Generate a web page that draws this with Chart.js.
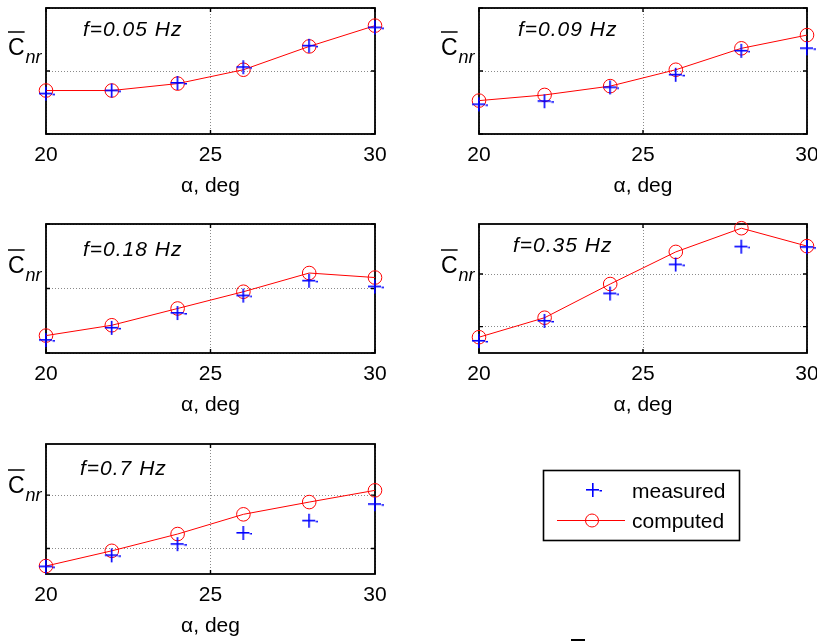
<!DOCTYPE html>
<html>
<head>
<meta charset="utf-8">
<script src="https://cdn.jsdelivr.net/npm/chart.js@4.4.0/dist/chart.umd.min.js"></script>
<style>
  body { margin: 0; background: #fff; }
  #wrap { position: relative; width: 817px; height: 642px; overflow: hidden; background: #fff; }
  #wrap canvas { position: absolute; }
</style>
</head>
<body>
<div id="wrap"></div>
<script>
// angle of attack, deg
const ALPHA = [20, 22, 24, 26, 28, 30];
const X_TICKS = [20, 25, 30];
const FREQ_LABELS = ["f=0.05 Hz", "f=0.09 Hz", "f=0.18 Hz", "f=0.35 Hz", "f=0.7 Hz"];
const SERIES_NAMES = ["measured", "computed"];
const X_TITLE = "\u03b1, deg";

// (no y tick labels, so arbitrary units)
const MEASURED_005 = [0.64, 0.69, 0.81, 1.06, 1.40, 1.69];
const COMPUTED_005 = [0.69, 0.69, 0.80, 1.02, 1.39, 1.72];
const MEASURED_009 = [0.47, 0.52, 0.74, 0.94, 1.32, 1.36];
const COMPUTED_009 = [0.53, 0.62, 0.76, 1.02, 1.36, 1.57];
const MEASURED_018 = [0.20, 0.39, 0.62, 0.89, 1.12, 1.03];
const COMPUTED_018 = [0.27, 0.43, 0.69, 0.95, 1.24, 1.17];
const MEASURED_035 = [0.73, 1.11, 1.63, 2.18, 2.52, 2.51];
const COMPUTED_035 = [0.80, 1.17, 1.81, 2.42, 2.87, 2.53];
const MEASURED_07 = [0.66, 0.87, 1.08, 1.29, 1.52, 1.83];
const COMPUTED_07 = [0.67, 0.955, 1.27, 1.64, 1.87, 2.09];

const Y_TICKS_A = [0, 1, 2];
const Y_TICKS_B = [1, 2];

Chart.defaults.font.family = "'Liberation Sans', Arial, sans-serif";
Chart.defaults.color = "#000";

// panel layout (global page pixels)
const panels = [
  { meas: MEASURED_005, comp: COMPUTED_005, label: FREQ_LABELS[0], yMin: 0, yMax: 2, yTicks: Y_TICKS_A,
    cv: [0, 0, 410, 210], plot: [46, 3, 375, 134], txt: [83, 30], yl: 32 },
  { meas: MEASURED_009, comp: COMPUTED_009, label: FREQ_LABELS[1], yMin: 0, yMax: 2, yTicks: Y_TICKS_A,
    cv: [410, 0, 407, 210], plot: [479, 3, 807, 134], txt: [518, 30], yl: 32 },
  { meas: MEASURED_018, comp: COMPUTED_018, label: FREQ_LABELS[2], yMin: 0, yMax: 2, yTicks: Y_TICKS_A,
    cv: [0, 210, 410, 220], plot: [46, 224, 375, 353], txt: [83, 250], yl: 250 },
  { meas: MEASURED_035, comp: COMPUTED_035, label: FREQ_LABELS[3], yMin: 0.5, yMax: 2.95, yTicks: Y_TICKS_B,
    cv: [410, 210, 407, 220], plot: [479, 224, 807, 353], txt: [513, 246], yl: 250 },
  { meas: MEASURED_07, comp: COMPUTED_07, label: FREQ_LABELS[4], yMin: 0.52, yMax: 2.96, yTicks: Y_TICKS_B,
    cv: [0, 430, 410, 212], plot: [46, 444, 375, 574], txt: [80, 469], yl: 470 }
];

const XH = 66;
const wrap = document.getElementById("wrap");

// blue "+" marker the way the old plot prints it
function plusMarker() {
  const c = document.createElement("canvas");
  c.width = 18; c.height = 18;
  const g = c.getContext("2d");
  g.fillStyle = "#0000ff";
  g.fillRect(8, 2, 1.6, 14);
  g.fillRect(2, 8, 13, 1.6);
  g.fillRect(15.5, 9, 2.5, 1.5);
  return c;
}
const PLUS = plusMarker();

const panelDeco = {
  id: "panelDeco",
  beforeDatasetsDraw(chart, args, o) {
    const { ctx, chartArea: a, scales } = chart;
    ctx.save();
    ctx.strokeStyle = "#000";
    ctx.lineWidth = 1.8;
    ctx.strokeRect(a.left, a.top, a.right - a.left, a.bottom - a.top);
    ctx.lineWidth = 1.4;
    ctx.beginPath();
    X_TICKS.forEach(v => {
      const x = scales.x.getPixelForValue(v);
      ctx.moveTo(x, a.bottom); ctx.lineTo(x, a.bottom - 4);
      ctx.moveTo(x, a.top); ctx.lineTo(x, a.top + 4);
    });
    o.yTicks.forEach(v => {
      const y = scales.y.getPixelForValue(v);
      ctx.moveTo(a.left, y); ctx.lineTo(a.left + 4, y);
      ctx.moveTo(a.right, y); ctx.lineTo(a.right - 4, y);
    });
    ctx.stroke();
    ctx.restore();
  },
  afterDraw(chart, args, o) {
    const { ctx, chartArea: a } = chart;
    ctx.save();
    ctx.fillStyle = "#000";
    ctx.textBaseline = "middle";
    ctx.font = "italic 21px 'Liberation Sans', Arial, sans-serif";
    ctx.letterSpacing = "1px";
    ctx.fillText(o.label, o.tx, o.ty);
    ctx.letterSpacing = "0px";
    // y label: C-bar with subscript nr
    const cx = a.left - 38;
    ctx.textBaseline = "alphabetic";
    ctx.font = "23px 'Liberation Sans', Arial, sans-serif";
    ctx.fillText("C", cx, o.yl + 23);
    const cw = ctx.measureText("C").width;
    ctx.font = "italic 18px 'Liberation Sans', Arial, sans-serif";
    ctx.fillText("nr", cx + cw + 1, o.yl + 31);
    ctx.strokeStyle = "#000";
    ctx.lineWidth = 1.5;
    ctx.beginPath();
    ctx.moveTo(cx, o.yl); ctx.lineTo(cx + cw, o.yl);
    ctx.stroke();
    ctx.restore();
  }
};

panels.forEach(p => {
  const [cl, ct, cw, ch] = p.cv;
  const [pl, pt, pr, pb] = p.plot;
  const cnv = document.createElement("canvas");
  cnv.width = cw; cnv.height = ch;
  cnv.style.left = cl + "px"; cnv.style.top = ct + "px";
  wrap.appendChild(cnv);

  new Chart(cnv, {
    type: "line",
    data: {
      datasets: [
        {
          label: SERIES_NAMES[0],
          data: ALPHA.map((a, i) => ({ x: a, y: p.meas[i] })),
          showLine: false,
          pointStyle: PLUS,
          pointRadius: 7,
          clip: false
        },
        {
          label: SERIES_NAMES[1],
          data: ALPHA.map((a, i) => ({ x: a, y: p.comp[i] })),
          borderColor: "#ff0000",
          borderWidth: 1,
          tension: 0,
          pointStyle: "circle",
          pointRadius: 6.8,
          pointBorderColor: "#ff0000",
          pointBackgroundColor: "rgba(0,0,0,0)",
          pointBorderWidth: 1,
          clip: false
        }
      ]
    },
    options: {
      responsive: false,
      animation: false,
      events: [],
      layout: {
        padding: { left: 0, top: pt - ct, right: cl + cw - pr, bottom: ct + ch - pb - XH }
      },
      plugins: {
        legend: { display: false },
        tooltip: { enabled: false },
        panelDeco: { label: p.label, tx: p.txt[0] - cl, ty: p.txt[1] - ct, yl: p.yl - ct, yTicks: p.yTicks }
      },
      scales: {
        x: {
          type: "linear",
          min: 20, max: 30,
          afterBuildTicks: s => { s.ticks = X_TICKS.map(v => ({ value: v })); },
          afterFit: s => { s.height = XH; s.paddingLeft = 0; s.paddingRight = 0; },
          grid: { color: "#8a8a8a", lineWidth: 1, drawTicks: false },
          border: { display: false, dash: [1, 2] },
          ticks: { padding: 9, font: { size: 21 }, color: "#000", maxRotation: 0 },
          title: { display: true, text: X_TITLE, font: { size: 21 }, color: "#000", padding: { top: 0, bottom: 1 } }
        },
        y: {
          min: p.yMin, max: p.yMax,
          afterBuildTicks: s => { s.ticks = p.yTicks.map(v => ({ value: v })); },
          afterFit: s => { s.width = pl - cl; },
          grid: { color: "#8a8a8a", lineWidth: 1, drawTicks: false },
          border: { display: false, dash: [1, 2] },
          ticks: { display: false }
        }
      }
    },
    plugins: [panelDeco]
  });
});

// legend box, drawn to match the series styles
(function drawLegend() {
  const L = 500, T = 455, W = 317, H = 187;
  const cnv = document.createElement("canvas");
  cnv.width = W; cnv.height = H;
  cnv.style.left = L + "px"; cnv.style.top = T + "px";
  wrap.appendChild(cnv);
  const g = cnv.getContext("2d");
  g.strokeStyle = "#000";
  g.lineWidth = 1.6;
  g.strokeRect(543.5 - L, 470.5 - T, 196, 70);
  g.fillStyle = "#000";
  g.font = "21px 'Liberation Sans', Arial, sans-serif";
  g.textBaseline = "middle";
  g.fillText(SERIES_NAMES[0], 632 - L, 492 - T);
  g.fillText(SERIES_NAMES[1], 632 - L, 522 - T);
  g.drawImage(PLUS, 593 - 9 - L, 490 - 9 - T);
  g.strokeStyle = "#ff0000";
  g.lineWidth = 1;
  g.beginPath();
  g.moveTo(557 - L, 520.5 - T); g.lineTo(625 - L, 520.5 - T);
  g.stroke();
  g.beginPath();
  g.arc(592 - L, 520.5 - T, 6.5, 0, Math.PI * 2);
  g.stroke();
  // stray overline of a cropped label at the bottom edge
  g.strokeStyle = "#000";
  g.lineWidth = 2;
  g.beginPath();
  g.moveTo(571 - L, 640 - T); g.lineTo(585 - L, 640 - T);
  g.stroke();
})();
</script>
</body>
</html>
